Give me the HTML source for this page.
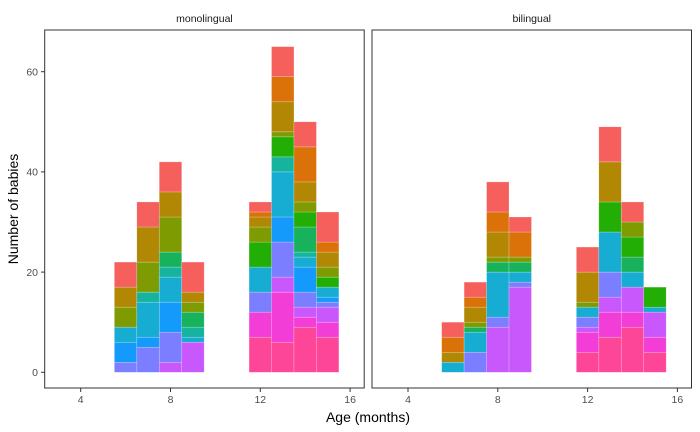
<!DOCTYPE html>
<html><head><meta charset="utf-8"><style>
html,body{margin:0;padding:0;background:#fff;}
svg{display:block;font-family:"Liberation Sans",Arial,sans-serif;}
</style></head><body>
<svg id="chart" width="700" height="432" viewBox="0 0 700 432"></svg>
<script>
const ages = [6,7,8,9,12,13,14,15];
const xTicks = [4,8,12,16];
const yTicks = [0,20,40,60];
const panels = ["monolingual","bilingual"];
const levelColors = ["#F5605D","#DB7209","#B18704","#7E9C02","#22AE04","#17B25B","#16B49E","#17ADD2","#149AFB","#7A7EFF","#C958FC","#F23ED7","#FE4699"];
// counts per level (top level first), per age bin
const monoRed     = [5,5,6,6,2,6,5,6];
const monoOrange  = [0,0,0,0,1,5,7,2];
const monoGold    = [4,7,5,2,2,6,4,3];
const monoOlive   = [4,6,7,2,3,1,2,2];
const monoGreen   = [0,0,0,0,5,4,3,2];
const monoGreen2  = [0,0,3,3,0,0,5,0];
const monoTeal    = [0,2,2,2,0,3,1,0];
const monoCyan    = [3,7,5,1,5,9,2,2];
const monoBlue    = [4,2,6,0,0,5,5,1];
const monoPeri    = [2,5,6,0,4,7,3,1];
const monoPurple  = [0,0,2,6,0,3,2,3];
const monoMagenta = [0,0,0,0,5,10,2,3];
const monoPink    = [0,0,0,0,7,6,9,7];
const biRed     = [3,3,6,3,5,7,4,0];
const biOrange  = [3,2,4,5,0,0,0,0];
const biGold    = [2,3,5,0,6,8,0,0];
const biOlive   = [0,1,1,1,1,0,3,0];
const biGreen   = [0,0,0,0,0,6,4,4];
const biGreen2  = [0,1,2,2,0,0,3,0];
const biTeal    = [0,0,0,0,0,0,0,0];
const biCyan    = [2,4,9,2,2,8,3,1];
const biBlue    = [0,0,0,0,0,0,0,0];
const biPeri    = [0,4,2,1,2,5,0,0];
const biPurple  = [0,0,9,17,1,3,5,5];
const biMagenta = [0,0,0,0,4,5,3,3];
const biPink    = [0,0,0,0,4,7,9,4];
const monoSeries = [monoRed,monoOrange,monoGold,monoOlive,monoGreen,monoGreen2,monoTeal,monoCyan,monoBlue,monoPeri,monoPurple,monoMagenta,monoPink];
const biSeries = [biRed,biOrange,biGold,biOlive,biGreen,biGreen2,biTeal,biCyan,biBlue,biPeri,biPurple,biMagenta,biPink];
const allSeries = [monoSeries, biSeries];

const NS = "http://www.w3.org/2000/svg";
const svg = document.getElementById("chart");
function mk(tag, attrs, parent){
  const e = document.createElementNS(NS, tag);
  for (const k in attrs) e.setAttribute(k, attrs[k]);
  (parent||svg).appendChild(e);
  return e;
}
const panelLefts = [44.7, 372];
const panelW = 319.5, panelTop = 30, panelBottom = 388;
function xScale(p, m){ return panelLefts[p] + 36 + (m - 4) * 22.45; }
function yScale(v){ return 372.3 - v * 5.01; }

panels.forEach((name, p) => {
  const g = mk("g", {});
  
  
  const series = allSeries[p];
  ages.forEach((a, i) => {
    let cum = 0;
    for (let L = series.length - 1; L >= 0; L--) {
      const v = series[L][i];
      if (!v) continue;
      const x0 = xScale(p, a - 0.5), x1 = xScale(p, a + 0.5);
      const r = mk("rect", {x:x0, y:yScale(cum+v), width:x1-x0, height:yScale(cum)-yScale(cum+v), fill:levelColors[L], stroke:"rgba(255,255,255,0.35)", "stroke-width":0.6}, g);
      
      
      cum += v;
    }
  });
  const border = mk("rect", {x:panelLefts[p], y:panelTop, width:panelW, height:panelBottom-panelTop, fill:"none", stroke:"#333", "stroke-width":1}, g);
  
  
  const st = mk("text", {x:panelLefts[p]+panelW/2, y:22, "text-anchor":"middle", "font-size":"10.5", fill:"#1a1a1a"}, g);
  st.textContent = name;
  
  
  xTicks.forEach(t => {
    const x = xScale(p, t);
    const tk = mk("line", {x1:x, x2:x, y1:panelBottom, y2:panelBottom+4, stroke:"#333"}, g);
    
    
    const tl = mk("text", {x:x, y:403, "text-anchor":"middle", "font-size":"10.5", fill:"#4d4d4d"}, g);
    tl.textContent = t;
    
    
  });
});
yTicks.forEach(t => {
  const y = yScale(t);
  const tk = mk("line", {x1:41, x2:44.7, y1:y, y2:y, stroke:"#333"});
  
  
  const tl = mk("text", {x:38, y:y+3.8, "text-anchor":"end", "font-size":"10.5", fill:"#4d4d4d"});
  tl.textContent = t;
  
  
});
const xt = mk("text", {x:368, y:422, "text-anchor":"middle", "font-size":"14", fill:"#000"});
xt.textContent = "Age (months)";


const yt = mk("text", {x:0, y:0, transform:"translate(18,209) rotate(-90)", "text-anchor":"middle", "font-size":"14", fill:"#000"});
yt.textContent = "Number of babies";


</script>
</body></html>
